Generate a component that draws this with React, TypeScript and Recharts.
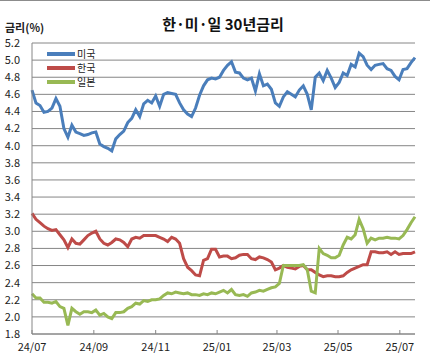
import { LineChart, Line, XAxis, YAxis, CartesianGrid } from "recharts"

const usRates = [
    4.65, 4.5, 4.47, 4.39, 4.4, 4.44, 4.55, 4.46, 4.2, 4.1, 4.24, 4.16, 4.14, 4.12, 4.13, 4.15,
    4.16, 4.02, 3.99, 3.97, 3.94, 4.08, 4.13, 4.17, 4.27, 4.32, 4.42, 4.34, 4.49, 4.53, 4.5, 4.58,
    4.46, 4.6, 4.62, 4.61, 4.6, 4.5, 4.42, 4.37, 4.34, 4.44, 4.59, 4.7, 4.77, 4.79, 4.78, 4.8,
    4.88, 4.94, 4.98, 4.86, 4.85, 4.79, 4.77, 4.79, 4.64, 4.84, 4.7, 4.72, 4.66, 4.5, 4.46, 4.57,
    4.63, 4.6, 4.57, 4.65, 4.7, 4.6, 4.42, 4.8, 4.85, 4.76, 4.88, 4.79, 4.68, 4.74, 4.85, 4.82,
    4.95, 4.92, 5.08, 5.04, 4.94, 4.89, 4.94, 4.95, 4.96, 4.9, 4.88, 4.81, 4.77, 4.89, 4.9, 4.97,
    5.03,
]

const krRates = [
    3.21, 3.14, 3.1, 3.06, 3.03, 3.01, 3.02, 2.96, 2.9, 2.81, 2.91, 2.86, 2.85, 2.9, 2.95, 2.98,
    3.0, 2.91, 2.86, 2.84, 2.87, 2.91, 2.9, 2.87, 2.82, 2.91, 2.93, 2.92, 2.95, 2.95, 2.95, 2.95,
    2.93, 2.91, 2.88, 2.93, 2.91, 2.86, 2.68, 2.58, 2.54, 2.49, 2.48, 2.66, 2.68, 2.79, 2.79, 2.7,
    2.71, 2.71, 2.68, 2.69, 2.72, 2.73, 2.73, 2.68, 2.67, 2.7, 2.69, 2.67, 2.64, 2.55, 2.57, 2.6,
    2.58, 2.57, 2.56, 2.59, 2.6, 2.55, 2.55, 2.52, 2.49, 2.47, 2.48, 2.48, 2.47, 2.47, 2.48, 2.52,
    2.55, 2.57, 2.59, 2.61, 2.61, 2.76, 2.76, 2.75, 2.75, 2.76, 2.73, 2.76, 2.73, 2.74, 2.74, 2.74,
    2.76,
]

const jpRates = [
    2.27, 2.22, 2.22, 2.17, 2.17, 2.16, 2.18, 2.12, 2.1, 1.9, 2.1, 2.06, 2.03, 2.06, 2.06, 2.05,
    2.08, 2.02, 2.04, 2.0, 1.98, 2.05, 2.05, 2.06, 2.1, 2.12, 2.16, 2.15, 2.19, 2.18, 2.2, 2.2,
    2.21, 2.25, 2.28, 2.27, 2.29, 2.28, 2.27, 2.28, 2.26, 2.26, 2.25, 2.27, 2.26, 2.28, 2.27, 2.29,
    2.31, 2.28, 2.32, 2.26, 2.25, 2.26, 2.24, 2.28, 2.29, 2.31, 2.3, 2.32, 2.34, 2.35, 2.39, 2.6,
    2.6, 2.6, 2.6, 2.6, 2.61, 2.55, 2.3, 2.28, 2.8, 2.74, 2.72, 2.69, 2.69, 2.72, 2.84, 2.93,
    2.91, 2.96, 3.14, 3.03, 2.86, 2.92, 2.9, 2.92, 2.92, 2.93, 2.92, 2.92, 2.91, 2.95, 3.02, 3.1,
    3.17,
]

// x tick positions (trading-day index) and their labels
const tickDays = [0, 15.5, 31, 46.4, 61.4, 76.7, 92.2]
const tickLabels = ["24/07", "24/09", "24/11", "25/01", "25/03", "25/05", "25/07"]

const yTicks = [1.8, 2.0, 2.2, 2.4, 2.6, 2.8, 3.0, 3.2, 3.4, 3.6, 3.8, 4.0, 4.2, 4.4, 4.6, 4.8, 5.0, 5.2]

const series = [
    { key: "us", name: "미국", color: "#4a7ebb" },
    { key: "kr", name: "한국", color: "#be4b48" },
    { key: "jp", name: "일본", color: "#98b954" },
]

const data = usRates.map((v, i) => ({ d: i, us: v, kr: krRates[i], jp: jpRates[i] }))

const FONT = "'Noto Sans CJK KR', 'Noto Sans', sans-serif"

function XTick(props: any) {
    const { x, y, payload } = props
    const idx = tickDays.indexOf(payload.value)
    return (
        <g>
            <line x1={x} y1={y - 4} x2={x} y2={y} stroke="#868686" />
            <text x={x} y={y + 17} textAnchor="middle" fontSize={11} fill="#222" fontFamily={FONT}>
                {tickLabels[idx]}
            </text>
        </g>
    )
}

export default function App() {
    return (
        <div
            style={{
                position: "fixed",
                left: 0,
                top: 0,
                width: 430,
                height: 356,
                background: "#fff",
                fontFamily: FONT,
            }}
        >
            <div style={{ position: "absolute", left: 0, top: 0 }}>
                <LineChart width={430} height={356} data={data} margin={{ top: 43, right: 15, bottom: 0, left: 6 }}>
                    <CartesianGrid vertical={false} stroke="#868686" />
                    <XAxis
                        dataKey="d"
                        type="number"
                        domain={[0, 96]}
                        ticks={tickDays}
                        interval={0}
                        height={22}
                        tickLine={false}
                        tickSize={0}
                        tickMargin={0}
                        axisLine={{ stroke: "#868686" }}
                        tick={<XTick />}
                    />
                    <YAxis
                        width={26}
                        domain={[1.8, 5.2]}
                        ticks={yTicks}
                        interval={0}
                        tickLine={false}
                        tickSize={0}
                        tickMargin={12}
                        axisLine={{ stroke: "#868686" }}
                        tickFormatter={(v: number) => v.toFixed(1)}
                        tick={{ fontSize: 11, fill: "#222", fontFamily: FONT }}
                    />
                    {series.map((s) => (
                        <Line
                            key={s.key}
                            dataKey={s.key}
                            name={s.name}
                            stroke={s.color}
                            strokeWidth={3}
                            dot={false}
                            type="linear"
                            isAnimationActive={false}
                        />
                    ))}
                </LineChart>
            </div>

            <svg width={430} height={356} style={{ position: "absolute", left: 0, top: 0, pointerEvents: "none" }}>
                <line x1={0} y1={0.5} x2={430} y2={0.5} stroke="#8c8c8c" />
                <text x={223} y={30} textAnchor="middle" fontSize={15} fontWeight="bold" fill="#111" fontFamily={FONT}>
                    한·미·일 30년금리
                </text>
                <text x={5} y={32} fontSize={11} fontWeight="bold" fill="#222" fontFamily={FONT}>
                    금리(%)
                </text>
                {series.map((s, i) => (
                    <g key={s.key}>
                        <line x1={47} y1={54 + i * 14} x2={75} y2={54 + i * 14} stroke={s.color} strokeWidth={4} />
                        <text x={77} y={57.5 + i * 14} fontSize={10} fill="#222" fontFamily={FONT}>
                            {s.name}
                        </text>
                    </g>
                ))}
            </svg>
        </div>
    )
}
